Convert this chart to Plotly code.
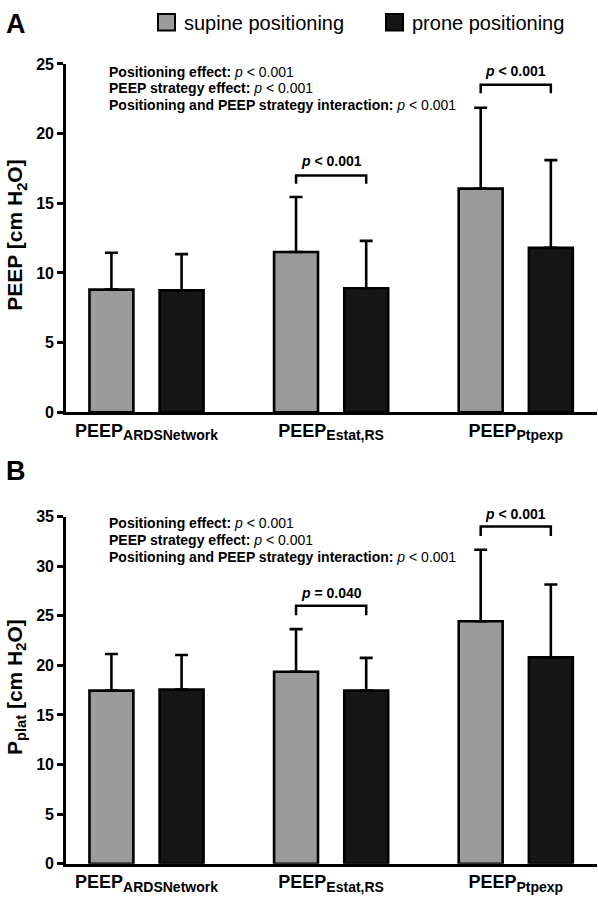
import plotly.graph_objects as go

# ---------------- data ----------------
categories = ["ARDSNetwork", "Estat,RS", "Ptpexp"]
group_idx = [0, 1, 2]

# Panel A: PEEP [cm H2O]
peep_supine_mean = [8.8, 11.5, 16.05]
peep_supine_sd = [2.65, 3.95, 5.8]
peep_prone_mean = [8.75, 8.9, 11.8]
peep_prone_sd = [2.6, 3.4, 6.3]

# Panel B: Pplat [cm H2O]
pplat_supine_mean = [17.45, 19.35, 24.45]
pplat_supine_sd = [3.7, 4.3, 7.2]
pplat_prone_mean = [17.55, 17.45, 20.8]
pplat_prone_sd = [3.5, 3.3, 7.35]

# significance brackets (group index, bracket level, label)
peep_sig_groups = [1, 2]
peep_sig_level = [17.0, 23.5]
peep_sig_text = ["< 0.001", "< 0.001"]
pplat_sig_groups = [1, 2]
pplat_sig_level = [26.0, 34.0]
pplat_sig_text = ["= 0.040", "< 0.001"]

stats_lines = [("Positioning effect: ", "< 0.001"),
               ("PEEP strategy effect: ", "< 0.001"),
               ("Positioning and PEEP strategy interaction: ", "< 0.001")]

series_names = ["supine positioning", "prone positioning"]
GREY = "#9b9b9b"
DARK = "#161616"
FONT = "Liberation Sans, Arial, sans-serif"

W, H = 598, 908
OFF = 0.19
BW = 0.238


def px(xp):
    return xp / W


def py(yp):
    return 1 - yp / H


DOM_A = [py(412), py(57)]
DOM_B = [py(872), py(518.3)]
RANGE_A = [0, 25]
RANGE_B = [0, 35]

fig = go.Figure()


def add_panel(xa, ya, sup_m, sup_sd, pr_m, pr_sd):
    for means, sds, col, name, sign in [(sup_m, sup_sd, GREY, series_names[0], -1),
                                        (pr_m, pr_sd, DARK, series_names[1], 1)]:
        fig.add_trace(go.Bar(
            x=[g + sign * OFF for g in group_idx], y=means, width=BW,
            marker_color=col, marker_line_color="black", marker_line_width=2.6,
            error_y=dict(type="data", symmetric=False, array=sds,
                         arrayminus=[0] * len(sds), color="black",
                         thickness=2.6, width=6.5),
            name=name, showlegend=False, xaxis=xa, yaxis=ya))


add_panel("x", "y", peep_supine_mean, peep_supine_sd, peep_prone_mean, peep_prone_sd)
add_panel("x2", "y2", pplat_supine_mean, pplat_supine_sd, pplat_prone_mean, pplat_prone_sd)

shapes = []
annotations = []


def brackets(xr, yr, groups, levels, texts, drop, gap, dom, rng):
    for g, lv, t in zip(groups, levels, texts):
        x0, x1 = g - OFF, g + OFF
        shapes.append(dict(type="path", xref=xr, yref=yr,
                           path=f"M {x0} {lv-drop} L {x0} {lv} L {x1} {lv} L {x1} {lv-drop}",
                           line=dict(color="black", width=2.5)))
        yv = lv + gap
        ypaper = dom[0] + (yv - rng[0]) / (rng[1] - rng[0]) * (dom[1] - dom[0])
        annotations.append(dict(xref=xr, yref="paper", x=g, y=ypaper,
                                text=f"<b><i>p</i> {t}</b>", xanchor="center",
                                showarrow=False, font=dict(size=14, family=FONT, color="black"),
                                yanchor="middle"))


brackets("x", "y", peep_sig_groups, peep_sig_level, peep_sig_text, 0.6, 1.0, DOM_A, RANGE_A)
brackets("x2", "y2", pplat_sig_groups, pplat_sig_level, pplat_sig_text, 0.95, 1.25, DOM_B, RANGE_B)

# stats text
for top in [65, 525]:
    for i, (bold, val) in enumerate(stats_lines):
        annotations.append(dict(xref="paper", yref="paper", x=px(107), y=py(top + i * 17),
                                xanchor="left", yanchor="middle", showarrow=False,
                                text=f"<b>{bold}</b><i>p</i> {val}",
                                font=dict(size=14, family=FONT, color="black")))

# panel letters
for letter, yp in [("A", 16), ("B", 472)]:
    annotations.append(dict(xref="paper", yref="paper", x=px(4), y=py(yp), xanchor="left",
                            yanchor="middle", text=f"<b>{letter}</b>", showarrow=False,
                            font=dict(size=27, family=FONT, color="black")))

# y-axis titles
annotations.append(dict(xref="paper", yref="paper", x=px(16), y=py(232), textangle=-90,
                        xanchor="center", yanchor="middle",
                        text="<b>PEEP [cm H<sub>2</sub>O]</b>", showarrow=False,
                        font=dict(size=21, family=FONT, color="black")))
annotations.append(dict(xref="paper", yref="paper", x=px(16), y=py(692), textangle=-90,
                        xanchor="center", yanchor="middle",
                        text="<b>P<sub>plat</sub> [cm H<sub>2</sub>O]</b>", showarrow=False,
                        font=dict(size=21, family=FONT, color="black")))

# legend
for (x0, name, col) in [(158, series_names[0], GREY), (386, series_names[1], DARK)]:
    shapes.append(dict(type="rect", xref="paper", yref="paper", x0=px(x0), x1=px(x0 + 17),
                       y0=py(23), y1=py(6), fillcolor=col, line=dict(color="black", width=2)))
    annotations.append(dict(xref="paper", yref="paper", x=px(x0 + 24), y=py(15), xanchor="left",
                            yanchor="middle", text=name, showarrow=False,
                            font=dict(size=20, family=FONT, color="black")))

ticktext = [f"<b>PEEP<sub><span style='font-size:14px'>{c}</span></sub></b>" for c in categories]

xcommon = dict(range=[-0.436, 2.44], showline=True, linecolor="black", linewidth=2.6,
               ticks="", tickvals=group_idx, ticktext=ticktext, showgrid=False, zeroline=False,
               tickfont=dict(size=18, family=FONT, color="black"), fixedrange=True,
               domain=[px(66), px(597)])
ycommon = dict(showline=True, linecolor="black", linewidth=2.6, ticks="outside", ticklen=6,
               tickwidth=2.6, tickcolor="black", showgrid=False, zeroline=False, dtick=5,
               fixedrange=True,
               tickfont=dict(size=16, family=FONT, color="black", weight="bold"))

fig.update_layout(
    width=W, height=H, autosize=False,
    margin=dict(l=0, r=0, t=0, b=0),
    paper_bgcolor="white", plot_bgcolor="white",
    font=dict(family=FONT, color="black"),
    xaxis=dict(**xcommon, anchor="y"),
    yaxis=dict(**ycommon, range=RANGE_A, domain=DOM_A, anchor="x"),
    xaxis2=dict(**xcommon, anchor="y2"),
    yaxis2=dict(**ycommon, range=RANGE_B, domain=DOM_B, anchor="x2"),
    shapes=shapes, annotations=annotations,
)

fig.write_html("out.html", config={"displayModeBar": False},
               post_script="document.body.style.margin='0px';document.body.style.overflow='hidden';")
